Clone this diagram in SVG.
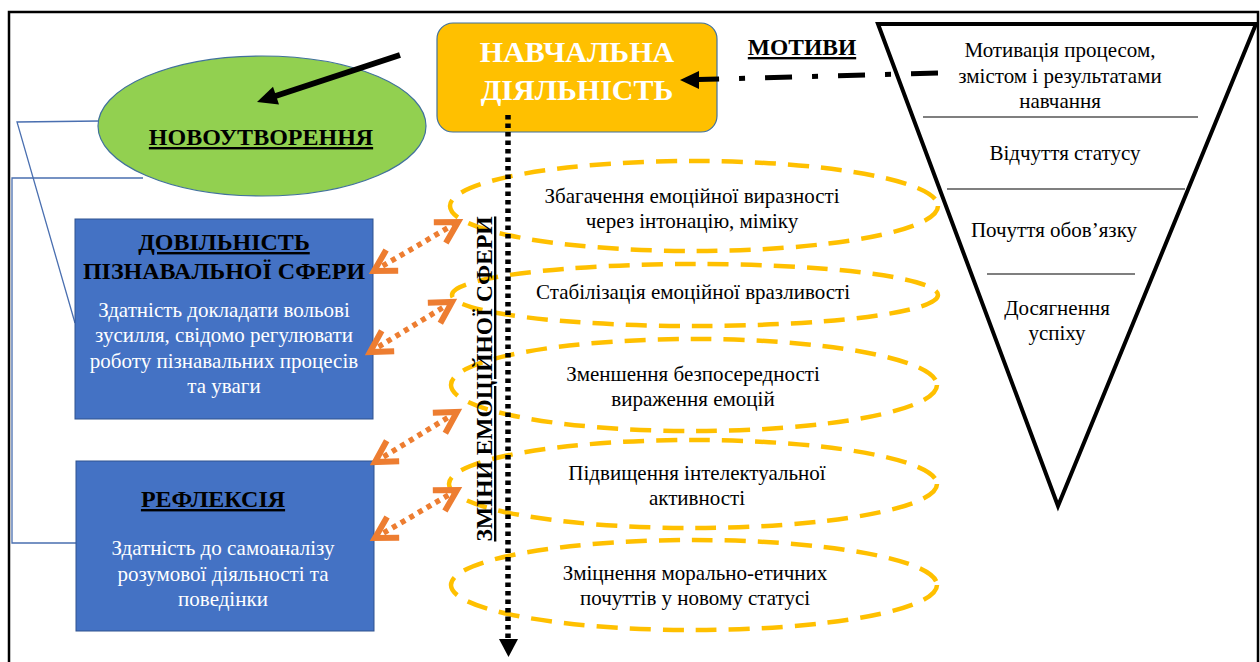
<svg xmlns="http://www.w3.org/2000/svg" width="1260" height="662" viewBox="0 0 1260 662" font-family="'Liberation Serif', 'DejaVu Serif', serif">
<style>
text{font-family:'Liberation Serif', 'DejaVu Serif', serif}
.t{text-anchor:middle}
.b{font-weight:bold}
.u{text-decoration:underline}
.blk{fill:#000}
.wht{fill:#fff}
.s18{font-size:21px}
.h{font-size:24px}
.yel{fill:none;stroke:#FFC000;stroke-width:4.5;stroke-dasharray:21 12}
.conn{fill:none;stroke:#4A6FB0;stroke-width:1.3}
.oar{fill:none;stroke:#ED7D31;stroke-width:5.5;stroke-dasharray:5 5;marker-start:url(#chev);marker-end:url(#chev)}
</style>
<defs>
<marker id="chev" markerUnits="userSpaceOnUse" orient="auto-start-reverse" refX="0" refY="0" markerWidth="40" markerHeight="40" viewBox="-30 -20 40 40" overflow="visible">
<path d="M-21,-12 L0,0 L-21,12" fill="none" stroke="#ED7D31" stroke-width="6" stroke-linejoin="miter"/>
</marker>
</defs>
<rect x="0" y="0" width="1260" height="662" fill="#fff"/>
<rect x="9" y="12" width="1249" height="700" fill="none" stroke="#000" stroke-width="2.5"/>

<g id="connectors">
<polyline class="conn" points="100,121 17,122 75,323"/>
<polyline class="conn" points="143,178 12,178 12,543 78,543"/>
</g>

<g id="emo-ellipses">
<ellipse class="yel" cx="694" cy="206" rx="244" ry="45"/>
<ellipse class="yel" cx="695" cy="295" rx="243" ry="31"/>
<ellipse class="yel" cx="694" cy="385" rx="243" ry="46"/>
<ellipse class="yel" cx="693" cy="484" rx="244" ry="44"/>
<ellipse class="yel" cx="694" cy="585" rx="243" ry="45"/>
</g>

<g id="novoutvorennia">
<ellipse cx="262" cy="126" rx="164" ry="70" fill="#92D050" stroke="#41719C" stroke-width="1.2"/>
<text class="t b u blk h" x="261" y="145">НОВОУТВОРЕННЯ</text>
</g>

<g id="navchalna">
<rect x="437" y="23" width="280" height="109" rx="16" fill="#FFC000" stroke="#41719C" stroke-width="1.2"/>
<text class="t b wht" x="577" y="62" font-size="30">НАВЧАЛЬНА</text>
<text class="t b wht" x="577" y="100" font-size="30">ДІЯЛЬНІСТЬ</text>
</g>

<g id="motyvy">
<text class="t b u blk" x="802" y="55" font-size="23.5">МОТИВИ</text>
</g>

<g id="dovilnist">
<rect x="75" y="219" width="298" height="200" fill="#4472C4" stroke="#2F528F" stroke-width="1"/>
<text class="t b u blk h" x="224" y="250">ДОВІЛЬНІСТЬ</text>
<text class="t b blk h" x="224" y="279">ПІЗНАВАЛЬНОЇ СФЕРИ</text>
<text class="t wht s18" x="224" y="317">Здатність докладати вольові</text>
<text class="t wht s18" x="224" y="342">зусилля, свідомо регулювати</text>
<text class="t wht s18" x="224" y="368">роботу пізнавальних процесів</text>
<text class="t wht s18" x="224" y="393">та уваги</text>
</g>

<g id="refleksiia">
<rect x="76" y="461" width="298" height="170" fill="#4472C4" stroke="#2F528F" stroke-width="1"/>
<text class="t b u blk h" x="213" y="507">РЕФЛЕКСІЯ</text>
<text class="t wht s18" x="223" y="555">Здатність до самоаналізу</text>
<text class="t wht s18" x="223" y="581">розумової діяльності та</text>
<text class="t wht s18" x="223" y="606">поведінки</text>
</g>

<g id="emo-texts">
<text class="t blk s18" x="692" y="203">Збагачення емоційної виразності</text>
<text class="t blk s18" x="692" y="228">через інтонацію, міміку</text>
<text class="t blk s18" x="693" y="299">Стабілізація емоційної вразливості</text>
<text class="t blk s18" x="693" y="381">Зменшення безпосередності</text>
<text class="t blk s18" x="693" y="406">вираження емоцій</text>
<text class="t blk s18" x="697" y="480">Підвищення інтелектуальної</text>
<text class="t blk s18" x="697" y="505">активності</text>
<text class="t blk s18" x="695" y="580">Зміцнення морально-етичних</text>
<text class="t blk s18" x="695" y="605">почуттів у новому статусі</text>
</g>

<g id="emo-label">
<text class="t b u blk" font-size="23.5" transform="translate(492,379) rotate(-90)">ЗМІНИ ЕМОЦІЙНОЇ СФЕРИ</text>
</g>

<g id="motivation-funnel">
<polygon points="878,24 1256,24 1058,506" fill="#fff" stroke="#000" stroke-width="4" stroke-linejoin="miter"/>
<line x1="923" y1="117" x2="1198" y2="117" stroke="#000" stroke-width="1.2"/>
<line x1="947" y1="189" x2="1185" y2="189" stroke="#000" stroke-width="1.2"/>
<line x1="987" y1="274" x2="1135" y2="274" stroke="#000" stroke-width="1.2"/>
<text class="t blk s18" x="1060" y="57">Мотивація процесом,</text>
<text class="t blk s18" x="1060" y="83">змістом і результатами</text>
<text class="t blk s18" x="1060" y="108">навчання</text>
<text class="t blk s18" x="1065" y="160">Відчуття статусу</text>
<text class="t blk s18" x="1054" y="237">Почуття обов’язку</text>
<text class="t blk s18" x="1057" y="315">Досягнення</text>
<text class="t blk s18" x="1057" y="340">успіху</text>
</g>

<g id="arrows">
<line x1="400" y1="55" x2="274" y2="96.5" stroke="#000" stroke-width="6"/>
<polygon points="257,102 279,104.6 273,86.8" fill="#000"/>
<path d="M938,73 L698,79.5" fill="none" stroke="#000" stroke-width="5" stroke-dasharray="27 20 6 20"/>
<polygon points="680,80 699,71 699,89" fill="#000"/>
<line x1="508" y1="115" x2="508" y2="640" stroke="#000" stroke-width="5.5" stroke-dasharray="4.5 4"/>
<polygon points="499,639 518,639 508.5,657" fill="#000"/>
<line class="oar" x1="374" y1="271" x2="458" y2="222"/>
<line class="oar" x1="370" y1="352" x2="452" y2="302"/>
<line class="oar" x1="375" y1="462" x2="457" y2="412"/>
<line class="oar" x1="375" y1="538" x2="457" y2="490"/>
</g>
</svg>
